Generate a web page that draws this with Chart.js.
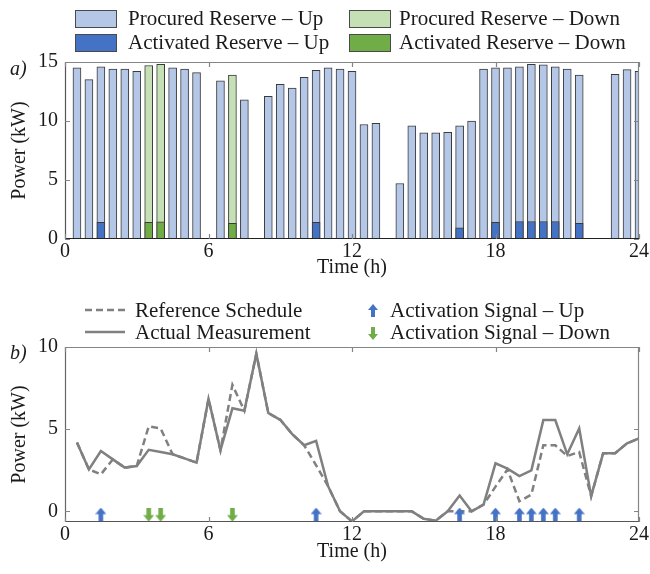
<!DOCTYPE html>
<html>
<head>
<meta charset="utf-8">
<script src="https://cdn.jsdelivr.net/npm/chart.js@4.4.0/dist/chart.umd.min.js"></script>
<style>
  body { margin: 0; background: #fff; font-family: "Liberation Serif", "Times New Roman", serif; }
  #wrap { position: relative; width: 650px; height: 574px; overflow: hidden; }
  canvas { position: absolute; left: 0; }
  .txt { position: absolute; font-size: 21px; line-height: 24px; color: #1a1a1a; white-space: nowrap; }
  .box { position: absolute; width: 40px; height: 16px; border: 1px solid #4a4a4a; }
  .tag { position: absolute; font-size: 20px; font-style: italic; line-height: 22px; color: #1a1a1a; }
  svg { position: absolute; overflow: visible; }
</style>
</head>
<body>
<div id="wrap">
  <canvas id="top" width="650" height="285" style="top:0"></canvas>
  <canvas id="bottom" width="650" height="289" style="top:285px"></canvas>

  <div class="box" style="left:75px;top:10px;background:#b4c7e7"></div>
  <div class="txt" style="left:128px;top:6px">Procured Reserve – Up</div>
  <div class="box" style="left:349px;top:10px;background:#c5e0b4"></div>
  <div class="txt" style="left:399px;top:6px">Procured Reserve – Down</div>
  <div class="box" style="left:75px;top:34px;background:#4472c4"></div>
  <div class="txt" style="left:128px;top:30px">Activated Reserve – Up</div>
  <div class="box" style="left:349px;top:34px;background:#70ad47"></div>
  <div class="txt" style="left:399px;top:30px">Activated Reserve – Down</div>

  <svg width="44" height="10" style="left:85px;top:305px"><line x1="0" y1="5" x2="40" y2="5" stroke="#808080" stroke-width="2.5" stroke-dasharray="7,4"/></svg>
  <div class="txt" style="left:135px;top:298px">Reference Schedule</div>
  <svg width="44" height="10" style="left:85px;top:327px"><line x1="0" y1="5" x2="40" y2="5" stroke="#808080" stroke-width="2.5"/></svg>
  <div class="txt" style="left:135px;top:320px">Actual Measurement</div>
  <svg width="10" height="14" style="left:368px;top:304px"><polygon points="5,0 10,6 7,6 7,13 3,13 3,6 0,6" fill="#4472c4"/></svg>
  <div class="txt" style="left:390px;top:298px">Activation Signal – Up</div>
  <svg width="10" height="14" style="left:368px;top:327px"><polygon points="3,0 7,0 7,7 10,7 5,13 0,7 3,7" fill="#70ad47"/></svg>
  <div class="txt" style="left:390px;top:320px">Activation Signal – Down</div>

  <div class="tag" style="left:10px;top:57px">a)</div>
  <div class="tag" style="left:10px;top:341px">b)</div>
</div>
<script>
// half-hour time steps (h)
var times = [0.5, 1, 1.5, 2, 2.5, 3, 3.5, 4, 4.5, 5, 5.5, 6,
             6.5, 7, 7.5, 8, 8.5, 9, 9.5, 10, 10.5, 11, 11.5, 12,
             12.5, 13, 13.5, 14, 14.5, 15, 15.5, 16, 16.5, 17, 17.5, 18,
             18.5, 19, 19.5, 20, 20.5, 21, 21.5, 22, 22.5, 23, 23.5, 24];

// panel a) reserves (kW)
var procuredUp = [14.5, 13.5, 14.6, 14.4, 14.4, 14.2, null, null, 14.5, 14.4, 14.1, 0,
                  13.4, null, 11.8, 0, 12.1, 13.1, 12.8, 13.7, 14.3, 14.5, 14.4, 14.2,
                  9.7, 9.8, 0, 4.7, 9.6, 9.0, 9.0, 9.05, 9.6, 10.0, 14.4, 14.5,
                  14.5, 14.6, 14.8, 14.75, 14.6, 14.4, 13.9, 0, 0, 13.95, 14.35, 14.2];
var procuredDown = [null, null, null, null, null, null, 14.7, 14.8, null, null, null, null,
                    null, 13.9, null, null, null, null, null, null, null, null, null, null,
                    null, null, null, null, null, null, null, null, null, null, null, null,
                    null, null, null, null, null, null, null, null, null, null, null, null];
var activatedUp = [null, null, 1.42, null, null, null, null, null, null, null, null, null,
                   null, null, null, null, null, null, null, null, 1.42, null, null, null,
                   null, null, null, null, null, null, null, null, 0.94, null, null, 1.42,
                   null, 1.48, 1.48, 1.48, 1.48, null, 1.33, null, null, null, null, null];
var activatedDown = [null, null, null, null, null, null, 1.42, 1.45, null, null, null, null,
                     null, 1.33, null, null, null, null, null, null, null, null, null, null,
                     null, null, null, null, null, null, null, null, null, null, null, null,
                     null, null, null, null, null, null, null, null, null, null, null, null];

// panel b) power (kW)
var referenceSchedule = [4.19, 2.55, 2.25, 3.16, 2.66, 2.76, 5.17, 5.04, 3.47, 3.22, 2.96, 6.84,
                         3.72, 7.70, 6.12, 9.59, 5.98, 5.57, 4.70, 4.02, 2.80, 1.53, 0.0, -0.61,
                         0, 0, 0, 0, 0, -0.45, -0.57, 0, 0, 0, 0.41, 1.50,
                         2.55, 0.61, 1.02, 4.02, 4.02, 3.37, 3.61, 0.92, 3.53, 3.53, 4.14, 4.43];
var actualMeasurement = [4.19, 2.55, 3.67, 3.16, 2.66, 2.76, 3.74, 3.61, 3.47, 3.22, 2.96, 6.84,
                         3.72, 6.27, 6.12, 9.59, 5.98, 5.57, 4.70, 4.02, 4.29, 1.53, 0.0, -0.61,
                         0, 0, 0, 0, 0, -0.45, -0.57, 0, 0.96, 0, 0.41, 2.92,
                         2.60, 2.14, 2.49, 5.55, 5.55, 3.47, 5.04, 0.92, 3.53, 3.53, 4.14, 4.43];
var signalUpTimes = [1.5, 10.5, 16.5, 18, 19, 19.5, 20, 20.5, 21.5];
var signalDownTimes = [3.5, 4, 7];

var xTicks = [0, 6, 12, 18, 24];
var yTicksTop = [0, 5, 10, 15];
var yTicksBottom = [0, 5, 10];

var fontFam = '"Liberation Serif", "Times New Roman", serif';
var arrowLevel = -0.2;

function pts(vals) {
    return times.map(function (t, i) { return { x: t, y: vals[i] }; });
}

function arrowImg(color, up) {
    var c = document.createElement('canvas');
    c.width = 11; c.height = 14;
    var g = c.getContext('2d');
    g.fillStyle = color;
    g.beginPath();
    if (up) {
        g.moveTo(5.5, 0); g.lineTo(11, 6.5); g.lineTo(7.8, 6.5); g.lineTo(7.8, 14);
        g.lineTo(3.2, 14); g.lineTo(3.2, 6.5); g.lineTo(0, 6.5);
    } else {
        g.moveTo(3.2, 0); g.lineTo(7.8, 0); g.lineTo(7.8, 7.5); g.lineTo(11, 7.5);
        g.lineTo(5.5, 14); g.lineTo(0, 7.5); g.lineTo(3.2, 7.5);
    }
    g.closePath();
    g.fill();
    return c;
}

// box round the plot with inward tick marks
var boxPlugin = {
    id: 'box',
    afterDraw: function (chart, args, opts) {
        var ctx = chart.ctx, a = chart.chartArea, x = chart.scales.x, y = chart.scales.y;
        ctx.save();
        ctx.lineWidth = 1.2;
        ctx.strokeStyle = '#858585';
        ctx.beginPath();
        ctx.moveTo(a.left, a.top + 0.5); ctx.lineTo(a.right, a.top + 0.5);
        ctx.moveTo(a.right - 0.5, a.top); ctx.lineTo(a.right - 0.5, a.bottom);
        ctx.stroke();
        ctx.strokeStyle = opts.leftColor;
        ctx.beginPath();
        ctx.moveTo(a.left + 0.5, a.top); ctx.lineTo(a.left + 0.5, a.bottom);
        ctx.stroke();
        ctx.strokeStyle = opts.bottomColor;
        ctx.beginPath();
        ctx.moveTo(a.left, a.bottom - 0.5); ctx.lineTo(a.right, a.bottom - 0.5);
        ctx.stroke();
        ctx.strokeStyle = '#858585';
        ctx.beginPath();
        x.ticks.forEach(function (t) {
            var px = Math.round(x.getPixelForValue(t.value)) + 0.5;
            ctx.moveTo(px, a.top); ctx.lineTo(px, a.top + 5);
            ctx.moveTo(px, a.bottom); ctx.lineTo(px, a.bottom - 5);
        });
        y.ticks.forEach(function (t) {
            var py = Math.round(y.getPixelForValue(t.value)) + 0.5;
            ctx.moveTo(a.left, py); ctx.lineTo(a.left + 5, py);
            ctx.moveTo(a.right, py); ctx.lineTo(a.right - 5, py);
        });
        ctx.stroke();
        ctx.restore();
    }
};

function xScale(axisHeight, titlePad) {
    return {
        type: 'linear', min: 0, max: 24, offset: false,
        grid: { display: false, drawTicks: false }, border: { display: false },
        afterBuildTicks: function (s) { s.ticks = xTicks.map(function (v) { return { value: v }; }); },
        afterFit: function (s) { s.height = axisHeight; },
        ticks: { padding: 1, color: '#1a1a1a', font: { family: fontFam, size: 20 } },
        title: { display: true, text: 'Time (h)', color: '#1a1a1a', padding: { top: 0, bottom: titlePad },
                 font: { family: fontFam, size: 20 } }
    };
}

function yScale(min, max, tickList) {
    return {
        min: min, max: max,
        grid: { display: false, drawTicks: false }, border: { display: false },
        afterBuildTicks: function (s) { s.ticks = tickList.map(function (v) { return { value: v }; }); },
        afterFit: function (s) { s.width = 65; },
        ticks: { padding: 7, color: '#1a1a1a', font: { family: fontFam, size: 20 } },
        title: { display: true, text: 'Power (kW)', color: '#1a1a1a', padding: { top: 8, bottom: 0 },
                 font: { family: fontFam, size: 20 } }
    };
}

var barBase = { borderColor: '#3a3a3a', borderWidth: 1, borderSkipped: false, grouped: false, barThickness: 8 };

new Chart(document.getElementById('top'), {
    type: 'bar',
    data: {
        datasets: [
            Object.assign({ label: 'Activated Reserve – Up', data: pts(activatedUp), backgroundColor: '#4472c4', order: 0 }, barBase),
            Object.assign({ label: 'Activated Reserve – Down', data: pts(activatedDown), backgroundColor: '#70ad47', order: 0 }, barBase),
            Object.assign({ label: 'Procured Reserve – Up', data: pts(procuredUp), backgroundColor: '#b4c7e7', order: 1 }, barBase),
            Object.assign({ label: 'Procured Reserve – Down', data: pts(procuredDown), backgroundColor: '#c5e0b4', order: 1 }, barBase)
        ]
    },
    options: {
        responsive: false, animation: false,
        layout: { padding: { top: 62, right: 10, left: 0, bottom: 0 } },
        plugins: { legend: { display: false }, tooltip: { enabled: false },
                   box: { leftColor: '#555555', bottomColor: '#222222' } },
        scales: { x: xScale(46, 5), y: yScale(0, 15, yTicksTop) }
    },
    plugins: [boxPlugin]
});

new Chart(document.getElementById('bottom'), {
    type: 'line',
    data: {
        datasets: [
            { label: 'Activation Signal – Up', order: 0, showLine: false,
              data: signalUpTimes.map(function (t) { return { x: t, y: arrowLevel }; }),
              pointStyle: arrowImg('#4472c4', true), pointRadius: 7 },
            { label: 'Activation Signal – Down', order: 0, showLine: false,
              data: signalDownTimes.map(function (t) { return { x: t, y: arrowLevel }; }),
              pointStyle: arrowImg('#70ad47', false), pointRadius: 7 },
            { label: 'Reference Schedule', order: 2, data: pts(referenceSchedule),
              borderColor: '#808080', borderWidth: 2.5, borderDash: [7, 4], pointRadius: 0, tension: 0 },
            { label: 'Actual Measurement', order: 1, data: pts(actualMeasurement),
              borderColor: '#808080', borderWidth: 2.5, pointRadius: 0, tension: 0 }
        ]
    },
    options: {
        responsive: false, animation: false,
        layout: { padding: { top: 62, right: 10, left: 0, bottom: 0 } },
        plugins: { legend: { display: false }, tooltip: { enabled: false },
                   box: { leftColor: '#666666', bottomColor: '#555555' } },
        scales: { x: xScale(52, 10), y: yScale(-0.65, 10, yTicksBottom) }
    },
    plugins: [boxPlugin]
});
</script>
</body>
</html>
